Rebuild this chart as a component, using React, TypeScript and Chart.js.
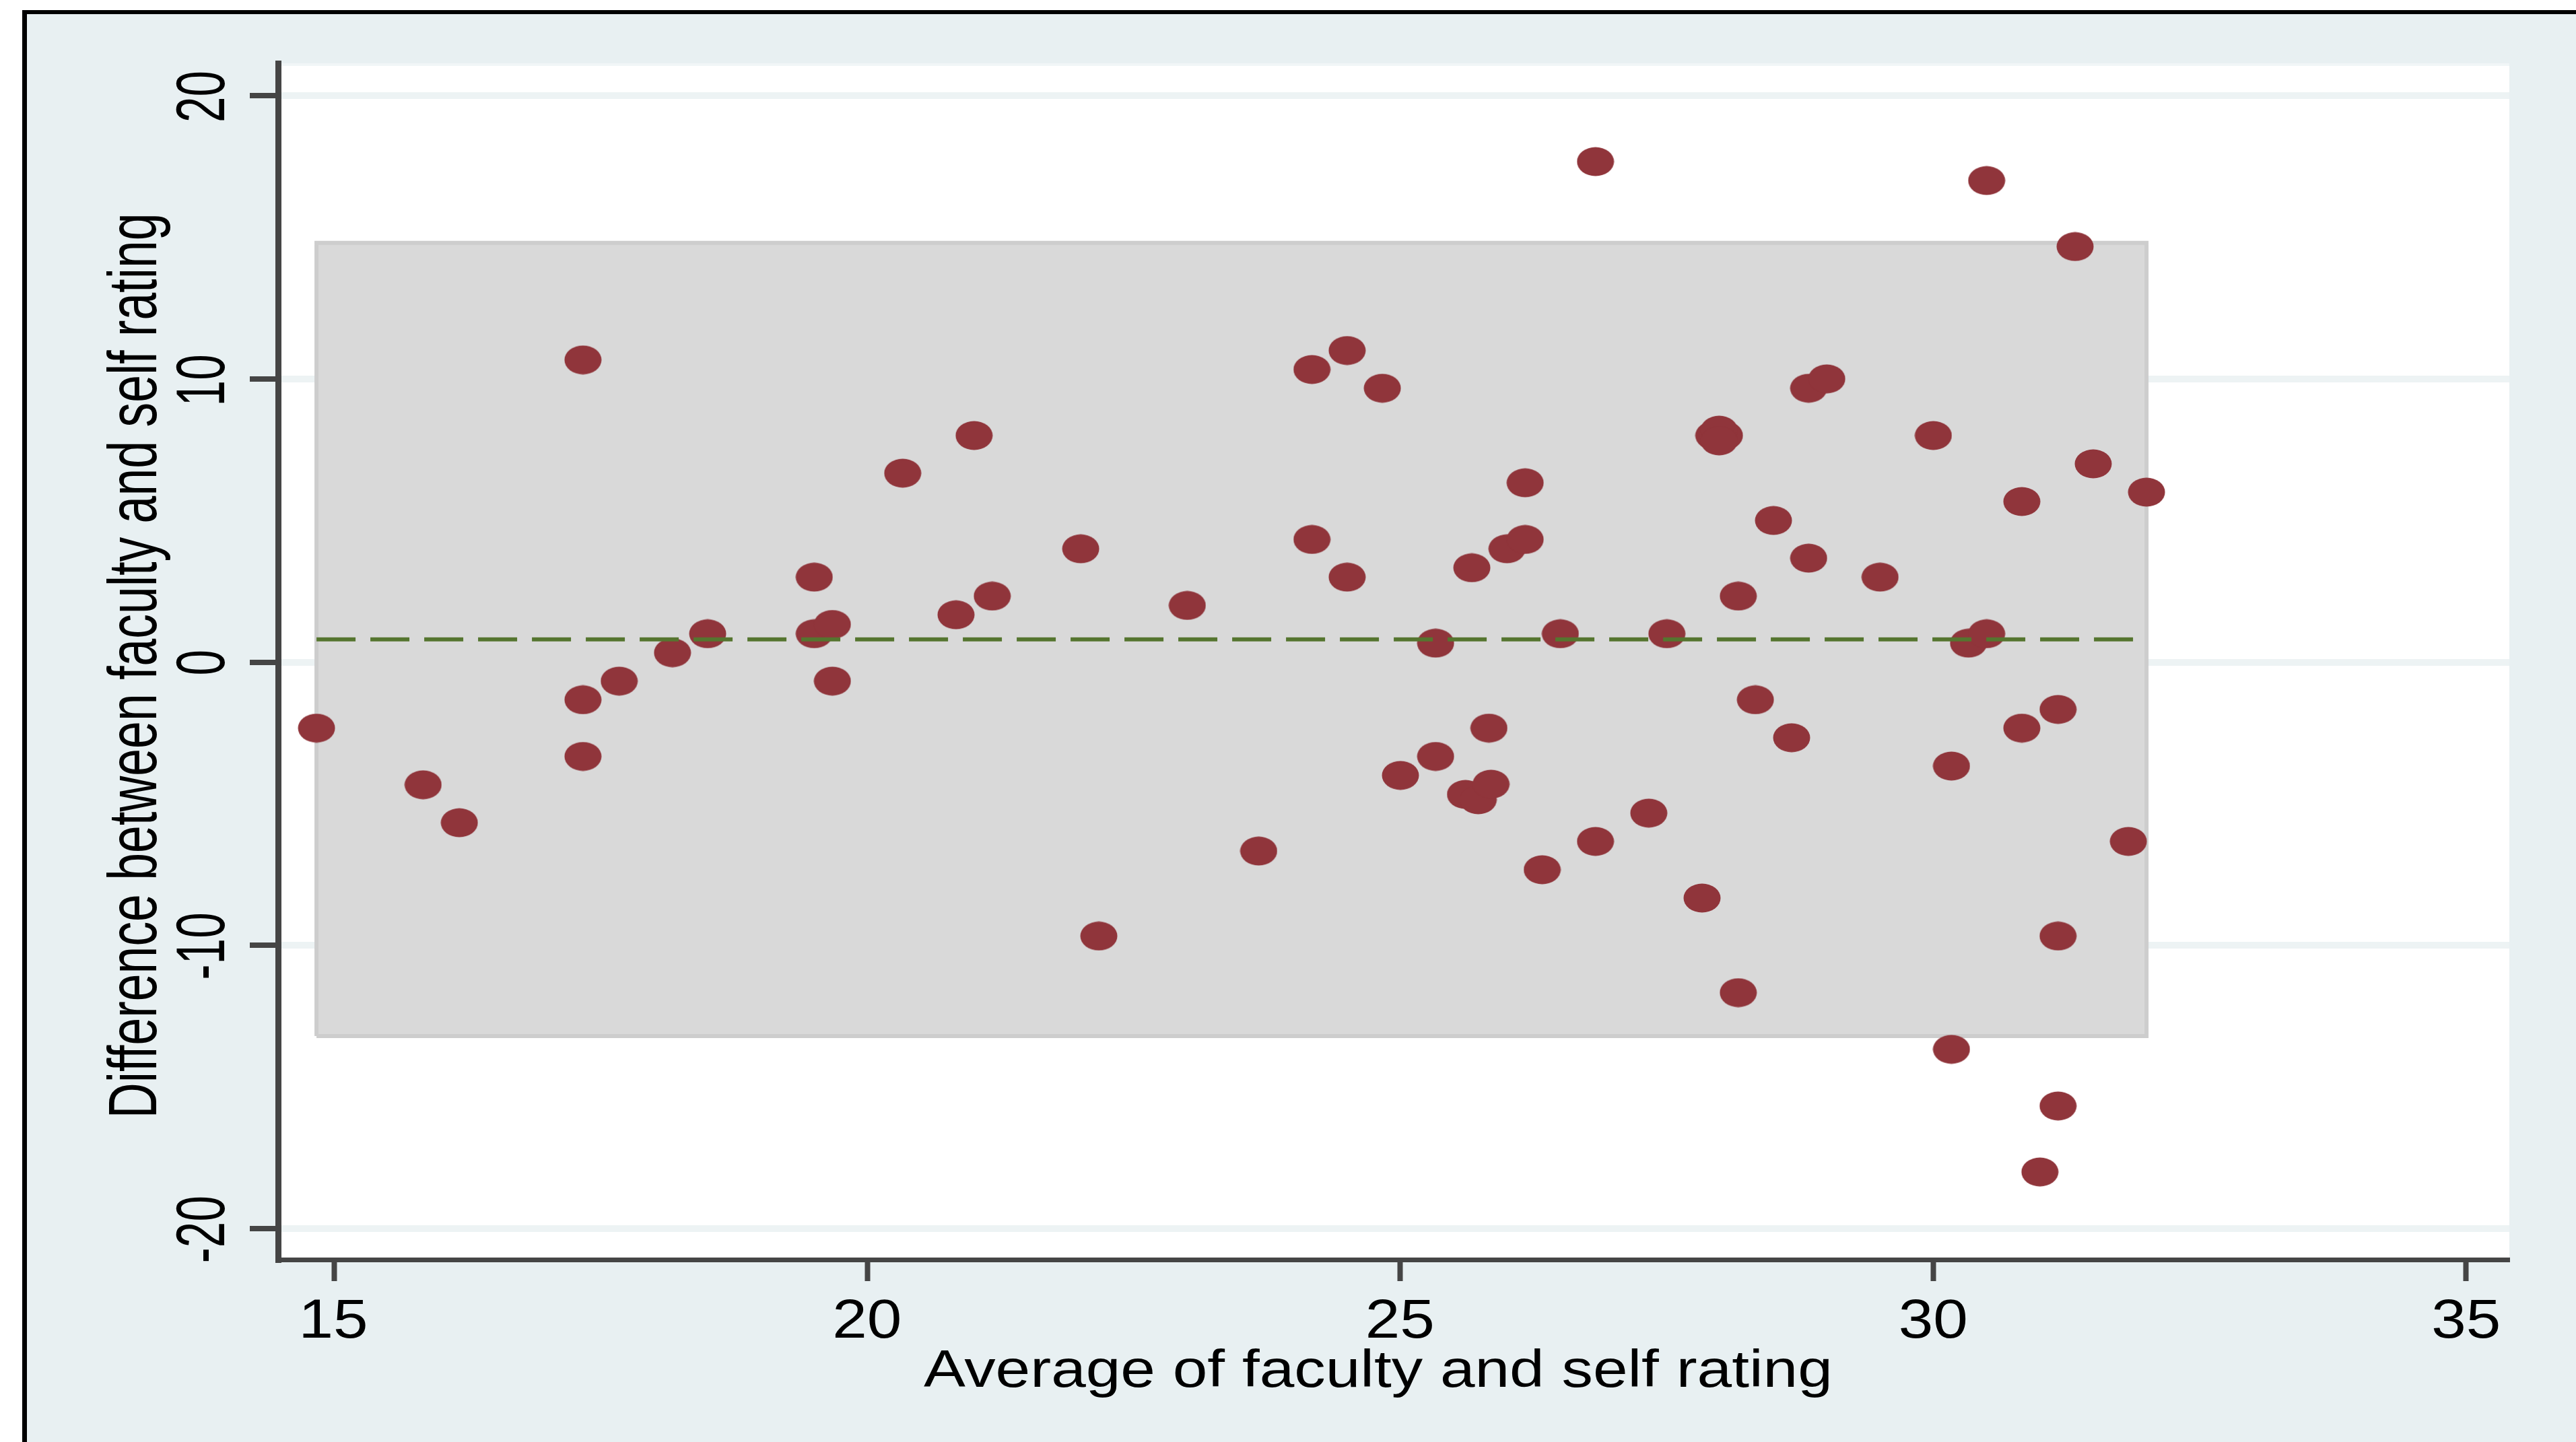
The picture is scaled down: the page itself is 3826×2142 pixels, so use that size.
import React, { useEffect, useRef } from 'react';
import { Chart, registerables } from 'chart.js';

Chart.register(...registerables);

const W = 3826;
const H = 2142;

// ---------------- data ----------------
const avgRating = [
  14.83, 15.83, 16.17, 17.33, 17.33, 17.33, 17.67, 18.17, 18.5, 19.5,
  19.5, 19.67, 19.67, 20.33, 20.83, 21, 21.17, 22, 22.17, 23,
  23.67, 24.17, 24.17, 24.5, 24.5, 24.83, 25, 25.33, 25.33, 25.61,
  25.73, 25.67, 25.85, 25.83, 26, 26.17, 26.17, 26.33, 26.5, 26.83,
  26.83, 27.33, 27.5, 27.83, 27.94, 28.04, 27.99, 27.99, 28.17, 28.17,
  28.33, 28.5, 28.67, 28.83, 28.83, 29, 29.5, 30, 30.17, 30.17,
  30.33, 30.5, 30.5, 30.83, 30.83, 31, 31.17, 31.17, 31.17, 31.33,
  31.5, 31.83, 32,
];
const diffRating = [
  -2.33, -4.33, -5.67, 10.67, -1.33, -3.33, -0.67, 0.33, 1, 3,
  1, 1.33, -0.67, 6.67, 1.67, 8, 2.33, 4, -9.67, 2,
  -6.67, 10.33, 4.33, 11, 3, 9.67, -4, 0.67, -3.33, -4.67,
  -4.86, 3.33, -4.31, -2.33, 4, 4.33, 6.33, -7.33, 1, 17.67,
  -6.33, -5.33, 1, -8.33, 8, 8, 8.19, 7.81, 2.33, -11.67,
  -1.33, 5, -2.67, 3.67, 9.67, 10, 3, 8, -3.67, -13.67,
  0.67, 1, 17, 5.67, -2.33, -18, -1.67, -9.67, -15.67, 14.67,
  7, -6.33, 6,
];
const meanDiff = 0.8;
const upperLoA = 14.8;
const lowerLoA = -13.2;

const xTicks = [15, 20, 25, 30, 35];
const yTicks = [-20, -10, 0, 10, 20];
const xTitle = 'Average of faculty and self rating';
const yTitle = 'Difference between faculty and self rating';

// ---------------- styling ----------------
const FONT = '"Liberation Sans", Arial, Helvetica, sans-serif';
const MAROON = '#90353b';
const GREEN = '#55752f';
const AXIS = '#454545';
const BG = '#e8f0f2';

function makeMarker(w: number, h: number, color: string) {
  const c = document.createElement('canvas');
  c.width = w;
  c.height = h;
  const g = c.getContext('2d')!;
  g.fillStyle = color;
  g.beginPath();
  g.ellipse(w / 2, h / 2, w / 2 - 0.5, h / 2 - 0.5, 0, 0, Math.PI * 2);
  g.fill();
  return c;
}

function drawInkText(
  ctx: CanvasRenderingContext2D,
  text: string,
  center: number,
  baseline: number,
  size: number,
  opts: { sx?: number; target?: number; rotated?: boolean }
) {
  ctx.save();
  ctx.font = `${size}px ${FONT}`;
  ctx.textAlign = 'left';
  ctx.textBaseline = 'alphabetic';
  const m = ctx.measureText(text);
  const ink = m.actualBoundingBoxLeft + m.actualBoundingBoxRight;
  const sx = opts.target ? opts.target / ink : opts.sx ?? 1;
  const inkCenter = (m.actualBoundingBoxRight - m.actualBoundingBoxLeft) / 2;
  if (opts.rotated) {
    ctx.translate(baseline, center);
    ctx.rotate(-Math.PI / 2);
  } else {
    ctx.translate(center, baseline);
  }
  ctx.scale(sx, 1);
  ctx.fillStyle = '#000';
  ctx.fillText(text, -inkCenter, 0);
  ctx.restore();
}

const framePlugin = {
  id: 'stataFrame',
  beforeDraw(chart: any) {
    const ctx = chart.ctx as CanvasRenderingContext2D;
    const a = chart.chartArea;
    ctx.save();
    ctx.fillStyle = '#ffffff';
    ctx.fillRect(0, 0, W, H);
    ctx.fillStyle = BG;
    ctx.fillRect(36, 18, W - 36, H - 18);
    ctx.fillStyle = '#000';
    ctx.fillRect(33, 15, W - 33, 6);
    ctx.fillRect(33, 15, 7, H - 15);
    ctx.fillStyle = '#ffffff';
    ctx.fillRect(a.left, a.top, a.right - a.left, a.bottom - a.top);
    ctx.fillStyle = '#f1f6f7';
    ctx.fillRect(a.left, a.top, a.right - a.left, 4);
    ctx.restore();
  },
  afterDraw(chart: any) {
    const ctx = chart.ctx as CanvasRenderingContext2D;
    const xs = chart.scales.x;
    const ys = chart.scales.y;
    for (const v of xTicks) {
      drawInkText(ctx, String(v), xs.getPixelForValue(v), 1987, 82, { sx: 1.13 });
    }
    for (const v of yTicks) {
      drawInkText(ctx, String(v), ys.getPixelForValue(v) + 1, 333, 102, { sx: 0.68, rotated: true });
    }
    drawInkText(ctx, xTitle, 2044, 2060, 77, { target: 1344 });
    drawInkText(ctx, yTitle, 988, 232, 102, { target: 1335, rotated: true });
  },
};

export default function App() {
  const ref = useRef<HTMLCanvasElement>(null);

  useEffect(() => {
    const canvas = ref.current!;
    const xMin = Math.min(...avgRating);
    const xMax = Math.max(...avgRating);
    const marker = makeMarker(56, 44, MAROON);

    const chart = new Chart(canvas, {
      type: 'scatter',
      data: {
        datasets: [
          {
            type: 'line',
            label: 'Mean difference',
            data: [
              { x: xMin, y: meanDiff },
              { x: xMax, y: meanDiff },
            ],
            borderColor: GREEN,
            borderWidth: 6,
            borderDash: [58, 22],
            pointRadius: 0,
            fill: false,
            order: 0,
          } as any,
          {
            type: 'scatter',
            label: 'Difference',
            data: avgRating.map((x, i) => ({ x, y: diffRating[i] })),
            pointStyle: marker as any,
            pointRadius: 28,
            backgroundColor: MAROON,
            borderColor: MAROON,
            order: 1,
          } as any,
          {
            type: 'line',
            label: 'Limits of agreement',
            data: [
              { x: xMin, y: lowerLoA },
              { x: xMin, y: upperLoA },
              { x: xMax, y: upperLoA },
              { x: xMax, y: lowerLoA },
              { x: xMin, y: lowerLoA },
            ],
            fill: 'shape',
            backgroundColor: '#d9d9d9',
            borderColor: '#cdcdcd',
            borderWidth: 6,
            borderJoinStyle: 'miter',
            pointRadius: 0,
            tension: 0,
            order: 2,
          } as any,
        ],
      },
      options: {
        responsive: false,
        animation: false,
        devicePixelRatio: 1,
        events: [],
        layout: {
          autoPadding: false,
          padding: { left: 0, top: 94, right: W - 3727, bottom: 0 },
        },
        plugins: {
          legend: { display: false },
          tooltip: { enabled: false },
          title: { display: false },
        },
        scales: {
          x: {
            type: 'linear',
            position: 'bottom',
            min: 14.4694,
            max: 35.4043,
            afterBuildTicks: (s: any) => {
              s.ticks = xTicks.map((v) => ({ value: v }));
            },
            afterFit: (s: any) => {
              s.height = H - 1871;
            },
            ticks: { display: false },
            grid: {
              display: true,
              drawOnChartArea: false,
              drawTicks: true,
              tickLength: 32,
              tickWidth: 8,
              tickColor: AXIS,
            },
            border: { display: true, color: AXIS, width: 7 },
          },
          y: {
            type: 'linear',
            position: 'left',
            min: -21.093,
            max: 21.141,
            afterBuildTicks: (s: any) => {
              s.ticks = yTicks.map((v) => ({ value: v }));
            },
            afterFit: (s: any) => {
              s.width = 413;
            },
            ticks: { display: false },
            grid: {
              display: true,
              drawOnChartArea: true,
              color: '#edf3f4',
              lineWidth: 10,
              drawTicks: true,
              tickLength: 42,
              tickWidth: 8,
              tickColor: AXIS,
            },
            border: { display: true, color: AXIS, width: 9 },
          },
        },
      } as any,
      plugins: [framePlugin],
    });

    return () => chart.destroy();
  }, []);

  return (
    <div style={{ position: 'absolute', left: 0, top: 0, width: W, height: H }}>
      <canvas ref={ref} width={W} height={H} style={{ display: 'block', width: W, height: H }} />
    </div>
  );
}
